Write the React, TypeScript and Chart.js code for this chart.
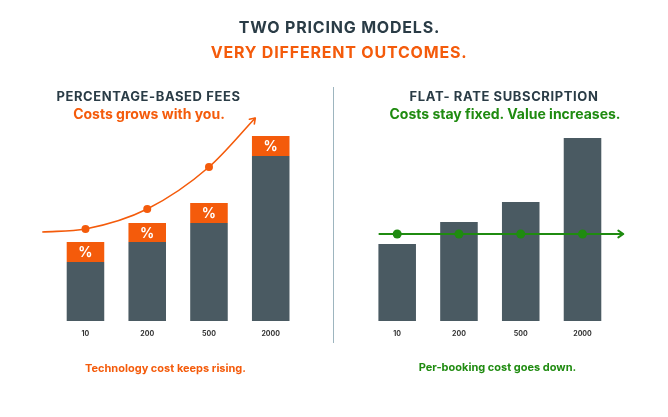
import React, { useEffect, useRef } from 'react';
import { Chart, registerables } from 'chart.js';

Chart.register(...registerables);

// ---------- data ----------
const categories = ['10', '200', '500', '2000'];
const baseCost = [59, 79, 98, 165];
const percentFee = [20, 19, 20, 20];
const subscriptionCost = [77, 99, 119, 183];
const feeCurveX = [-0.7, 0, 1, 2, 2.75];
const feeCurveY = [89, 92, 112, 154, 203];
const flatLineX = [-0.3, 0, 1, 2, 3, 3.66];
const flatLineY = [87, 87, 87, 87, 87, 87];
const yMax = 211;

// ---------- styles ----------
const GRAY = '#4a5a62';
const ORANGE = '#f45b0b';
const GREEN = '#1f8b10';
const DARK = '#2a3c46';
const FONT = 'Inter, Roboto, sans-serif';

const decorPlugin = {
  id: 'decor',
  afterDatasetsDraw(chart: any) {
    const ctx = chart.ctx;
    chart.data.datasets.forEach((ds: any, i: number) => {
      const meta = chart.getDatasetMeta(i);
      if (ds.percentLabel) {
        ctx.save();
        ctx.fillStyle = '#ffffff';
        ctx.font = `bold 14px ${FONT}`;
        ctx.textAlign = 'center';
        ctx.textBaseline = 'middle';
        meta.data.forEach((bar: any) => {
          ctx.fillText('%', bar.x, (bar.y + bar.base) / 2 + 1);
        });
        ctx.restore();
      }
      if (ds.arrowHead) {
        const pts = meta.data;
        const tip = pts[pts.length - 1];
        const prev = pts[pts.length - 2];
        const fx = tip.cp1x !== undefined && tip.cp1x !== tip.x ? tip.cp1x : prev.x;
        const fy = tip.cp1y !== undefined && tip.cp1x !== tip.x ? tip.cp1y : prev.y;
        const ang = Math.atan2(tip.y - fy, tip.x - fx);
        const len = 6;
        const spread = 0.6;
        ctx.save();
        ctx.strokeStyle = ds.borderColor;
        ctx.lineWidth = ds.borderWidth;
        ctx.lineCap = 'round';
        ctx.lineJoin = 'round';
        ctx.beginPath();
        ctx.moveTo(tip.x - len * Math.cos(ang - spread), tip.y - len * Math.sin(ang - spread));
        ctx.lineTo(tip.x, tip.y);
        ctx.lineTo(tip.x - len * Math.cos(ang + spread), tip.y - len * Math.sin(ang + spread));
        ctx.stroke();
        ctx.restore();
      }
    });
  },
};

function endRadius(n: number, r: number) {
  return (c: any) => (c.dataIndex === 0 || c.dataIndex === n - 1 ? 0 : r);
}

function baseOptions(padLeft: number, padRight: number) {
  return {
    responsive: false,
    animation: false as const,
    layout: { padding: { left: padLeft, right: padRight, top: 110, bottom: 76 } },
    plugins: { legend: { display: false }, tooltip: { enabled: false }, title: { display: false } },
    scales: {
      x: {
        type: 'category' as const,
        stacked: true,
        offset: true,
        grid: { display: false, drawTicks: false },
        border: { display: false },
        ticks: { color: '#333', font: { size: 7, family: FONT, weight: 'bold' as const }, padding: 9 },
        afterFit: (s: any) => {
          s.height = 20;
        },
      },
      x2: { type: 'linear' as const, display: false, offset: false, min: -0.5, max: 3.5 },
      y: { display: false, stacked: true, min: 0, max: yMax },
    },
  };
}

const barStyle = {
  categoryPercentage: 1,
  barPercentage: 0.608,
  grouped: false,
  order: 1,
  stack: 'bars',
};

function LeftChart() {
  const ref = useRef<HTMLCanvasElement>(null);
  useEffect(() => {
    const chart = new Chart(ref.current as HTMLCanvasElement, {
      type: 'bar',
      data: {
        labels: categories,
        datasets: [
          {
            type: 'line',
            data: feeCurveX.map((x, i) => ({ x, y: feeCurveY[i] })),
            xAxisID: 'x2',
            yAxisID: 'y',
            borderColor: ORANGE,
            backgroundColor: ORANGE,
            borderWidth: 1.6,
            cubicInterpolationMode: 'monotone',
            pointRadius: endRadius(feeCurveX.length, 4),
            pointBorderWidth: 0,
            clip: false,
            order: 0,
            arrowHead: true,
            stack: 'line',
          } as any,
          { data: baseCost, backgroundColor: GRAY, ...barStyle } as any,
          { data: percentFee, backgroundColor: ORANGE, ...barStyle, percentLabel: true } as any,
        ],
      },
      options: baseOptions(54.6, 32.4) as any,
      plugins: [decorPlugin],
    });
    return () => chart.destroy();
  }, []);
  return <canvas ref={ref} width={334} height={417} style={{ position: 'absolute', left: 0, top: 0 }} />;
}

function RightChart() {
  const ref = useRef<HTMLCanvasElement>(null);
  useEffect(() => {
    const chart = new Chart(ref.current as HTMLCanvasElement, {
      type: 'bar',
      data: {
        labels: categories,
        datasets: [
          {
            type: 'line',
            data: flatLineX.map((x, i) => ({ x, y: flatLineY[i] })),
            xAxisID: 'x2',
            yAxisID: 'y',
            borderColor: GREEN,
            backgroundColor: GREEN,
            borderWidth: 2,
            tension: 0,
            pointRadius: endRadius(flatLineX.length, 4.5),
            pointBorderWidth: 0,
            clip: false,
            order: 0,
            arrowHead: true,
            stack: 'line',
          } as any,
          { data: subscriptionCost, backgroundColor: GRAY, ...barStyle } as any,
        ],
      },
      options: baseOptions(32.3, 54.6) as any,
      plugins: [decorPlugin],
    });
    return () => chart.destroy();
  }, []);
  return <canvas ref={ref} width={334} height={417} style={{ position: 'absolute', left: 334, top: 0 }} />;
}

function Label(props: { cx: number; cy: number; text: string; color: string; size: number; weight?: number; spacing?: number }) {
  const lh = 20;
  return (
    <div
      style={{
        position: 'absolute',
        left: props.cx - 200,
        top: props.cy - lh / 2,
        width: 400,
        height: lh,
        lineHeight: `${lh}px`,
        textAlign: 'center',
        color: props.color,
        fontFamily: FONT,
        fontSize: props.size,
        fontWeight: props.weight ?? 700,
        letterSpacing: props.spacing ?? 0,
        whiteSpace: 'nowrap',
      }}
    >
      {props.text}
    </div>
  );
}

export default function App() {
  return (
    <div style={{ position: 'absolute', left: 0, top: 0, width: 668, height: 417, background: '#ffffff', overflow: 'hidden' }}>
      <LeftChart />
      <RightChart />
      <div style={{ position: 'absolute', left: 332.5, top: 87, width: 1.5, height: 256, background: '#9db5bf' }} />
      <Label cx={339.5} cy={27} text="TWO PRICING MODELS." color={DARK} size={16} spacing={0.8} />
      <Label cx={339} cy={52} text="VERY DIFFERENT OUTCOMES." color={ORANGE} size={16} spacing={0.8} />
      <Label cx={148.5} cy={96} text="PERCENTAGE-BASED FEES" color={DARK} size={13} spacing={0.6} />
      <Label cx={149} cy={113.5} text="Costs grows with you." color={ORANGE} size={14} />
      <Label cx={504} cy={96} text="FLAT- RATE SUBSCRIPTION" color={DARK} size={13} spacing={0.6} />
      <Label cx={505} cy={113.5} text="Costs stay fixed. Value increases." color={GREEN} size={14} />
      <Label cx={165.5} cy={368} text="Technology cost keeps rising." color={ORANGE} size={11} weight={700} />
      <Label cx={497.5} cy={367} text="Per-booking cost goes down." color={GREEN} size={11} weight={700} />
    </div>
  );
}
